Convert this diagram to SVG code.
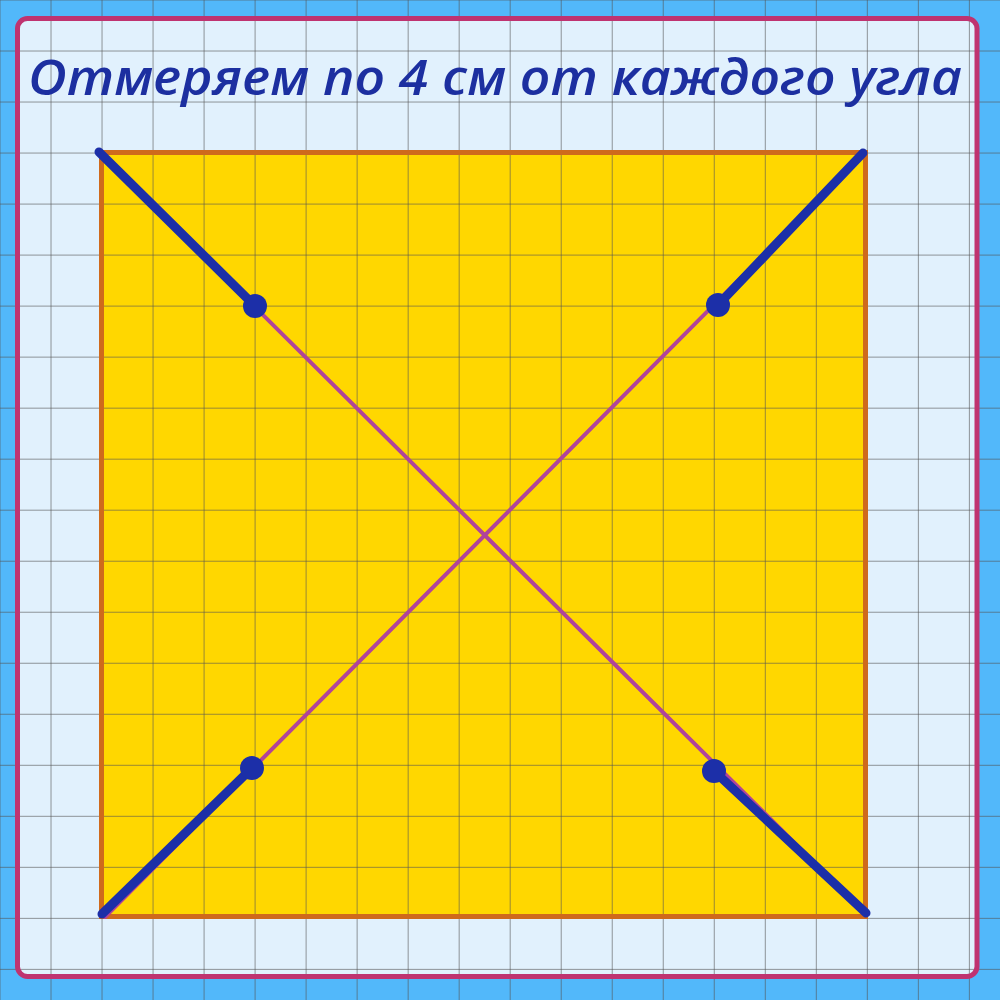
<svg xmlns="http://www.w3.org/2000/svg" width="1000" height="1000" viewBox="0 0 1000 1000">
<defs>
<style>
.grid line{stroke:#555;stroke-opacity:0.6;stroke-width:1}
.diag{stroke:#b0449a;stroke-width:4;stroke-linecap:round}
.seg{stroke:#1c2fa8;stroke-width:9;stroke-linecap:round}
.dot{fill:#1c2fa8}
.title{font-family:"Open Sans","DejaVu Sans",sans-serif;font-style:italic;font-weight:600;font-size:48px;fill:#1c2fa0}
</style>
</defs>
<rect x="0" y="0" width="1000" height="1000" fill="#52b8fa"/>
<rect x="17.5" y="18.5" width="959.5" height="958" rx="10" fill="#e1f1fd"/>
<rect id="square-fill" x="101.5" y="152.5" width="764" height="764" fill="#ffd700"/>
<g class="grid" id="grid">
<line x1="0" y1="0" x2="0" y2="1000"/>
<line x1="51.02" y1="0" x2="51.02" y2="1000"/>
<line x1="102.04" y1="0" x2="102.04" y2="1000"/>
<line x1="153.06" y1="0" x2="153.06" y2="1000"/>
<line x1="204.08" y1="0" x2="204.08" y2="1000"/>
<line x1="255.1" y1="0" x2="255.1" y2="1000"/>
<line x1="306.12" y1="0" x2="306.12" y2="1000"/>
<line x1="357.14" y1="0" x2="357.14" y2="1000"/>
<line x1="408.16" y1="0" x2="408.16" y2="1000"/>
<line x1="459.18" y1="0" x2="459.18" y2="1000"/>
<line x1="510.2" y1="0" x2="510.2" y2="1000"/>
<line x1="561.22" y1="0" x2="561.22" y2="1000"/>
<line x1="612.24" y1="0" x2="612.24" y2="1000"/>
<line x1="663.26" y1="0" x2="663.26" y2="1000"/>
<line x1="714.28" y1="0" x2="714.28" y2="1000"/>
<line x1="765.3" y1="0" x2="765.3" y2="1000"/>
<line x1="816.32" y1="0" x2="816.32" y2="1000"/>
<line x1="867.34" y1="0" x2="867.34" y2="1000"/>
<line x1="918.36" y1="0" x2="918.36" y2="1000"/>
<line x1="969.38" y1="0" x2="969.38" y2="1000"/>
<line x1="0" y1="0" x2="1000" y2="0"/>
<line x1="0" y1="51.02" x2="1000" y2="51.02"/>
<line x1="0" y1="102.04" x2="1000" y2="102.04"/>
<line x1="0" y1="153.06" x2="1000" y2="153.06"/>
<line x1="0" y1="204.08" x2="1000" y2="204.08"/>
<line x1="0" y1="255.1" x2="1000" y2="255.1"/>
<line x1="0" y1="306.12" x2="1000" y2="306.12"/>
<line x1="0" y1="357.14" x2="1000" y2="357.14"/>
<line x1="0" y1="408.16" x2="1000" y2="408.16"/>
<line x1="0" y1="459.18" x2="1000" y2="459.18"/>
<line x1="0" y1="510.2" x2="1000" y2="510.2"/>
<line x1="0" y1="561.22" x2="1000" y2="561.22"/>
<line x1="0" y1="612.24" x2="1000" y2="612.24"/>
<line x1="0" y1="663.26" x2="1000" y2="663.26"/>
<line x1="0" y1="714.28" x2="1000" y2="714.28"/>
<line x1="0" y1="765.3" x2="1000" y2="765.3"/>
<line x1="0" y1="816.32" x2="1000" y2="816.32"/>
<line x1="0" y1="867.34" x2="1000" y2="867.34"/>
<line x1="0" y1="918.36" x2="1000" y2="918.36"/>
<line x1="0" y1="969.38" x2="1000" y2="969.38"/>
</g>
<rect id="panel-border" x="17.5" y="18.5" width="959.5" height="958" rx="10" fill="none" stroke="#bf3370" stroke-width="5"/>
<g id="square">
<rect x="101.5" y="152.5" width="764" height="764" fill="none" stroke="#cf6a1c" stroke-width="5"/>
</g>
<g id="title">
<text class="title" x="28" y="95" textLength="934" lengthAdjust="spacingAndGlyphs">Отмеряем по 4 см от каждого угла</text>
</g>
<g id="connectors">
<line class="diag" x1="99" y1="152" x2="866" y2="914"/>
<line class="diag" x1="105" y1="917" x2="864" y2="154"/>
<line class="seg" x1="99" y1="152" x2="255" y2="306"/>
<line class="seg" x1="863" y1="153" x2="718" y2="305"/>
<line class="seg" x1="102" y1="914" x2="252" y2="768"/>
<line class="seg" x1="866" y1="913" x2="714" y2="771"/>
</g>
<g id="points">
<circle class="dot" cx="255" cy="306" r="12"/>
<circle class="dot" cx="718" cy="305" r="12"/>
<circle class="dot" cx="252" cy="768" r="12"/>
<circle class="dot" cx="714" cy="771" r="12"/>
</g>
</svg>
